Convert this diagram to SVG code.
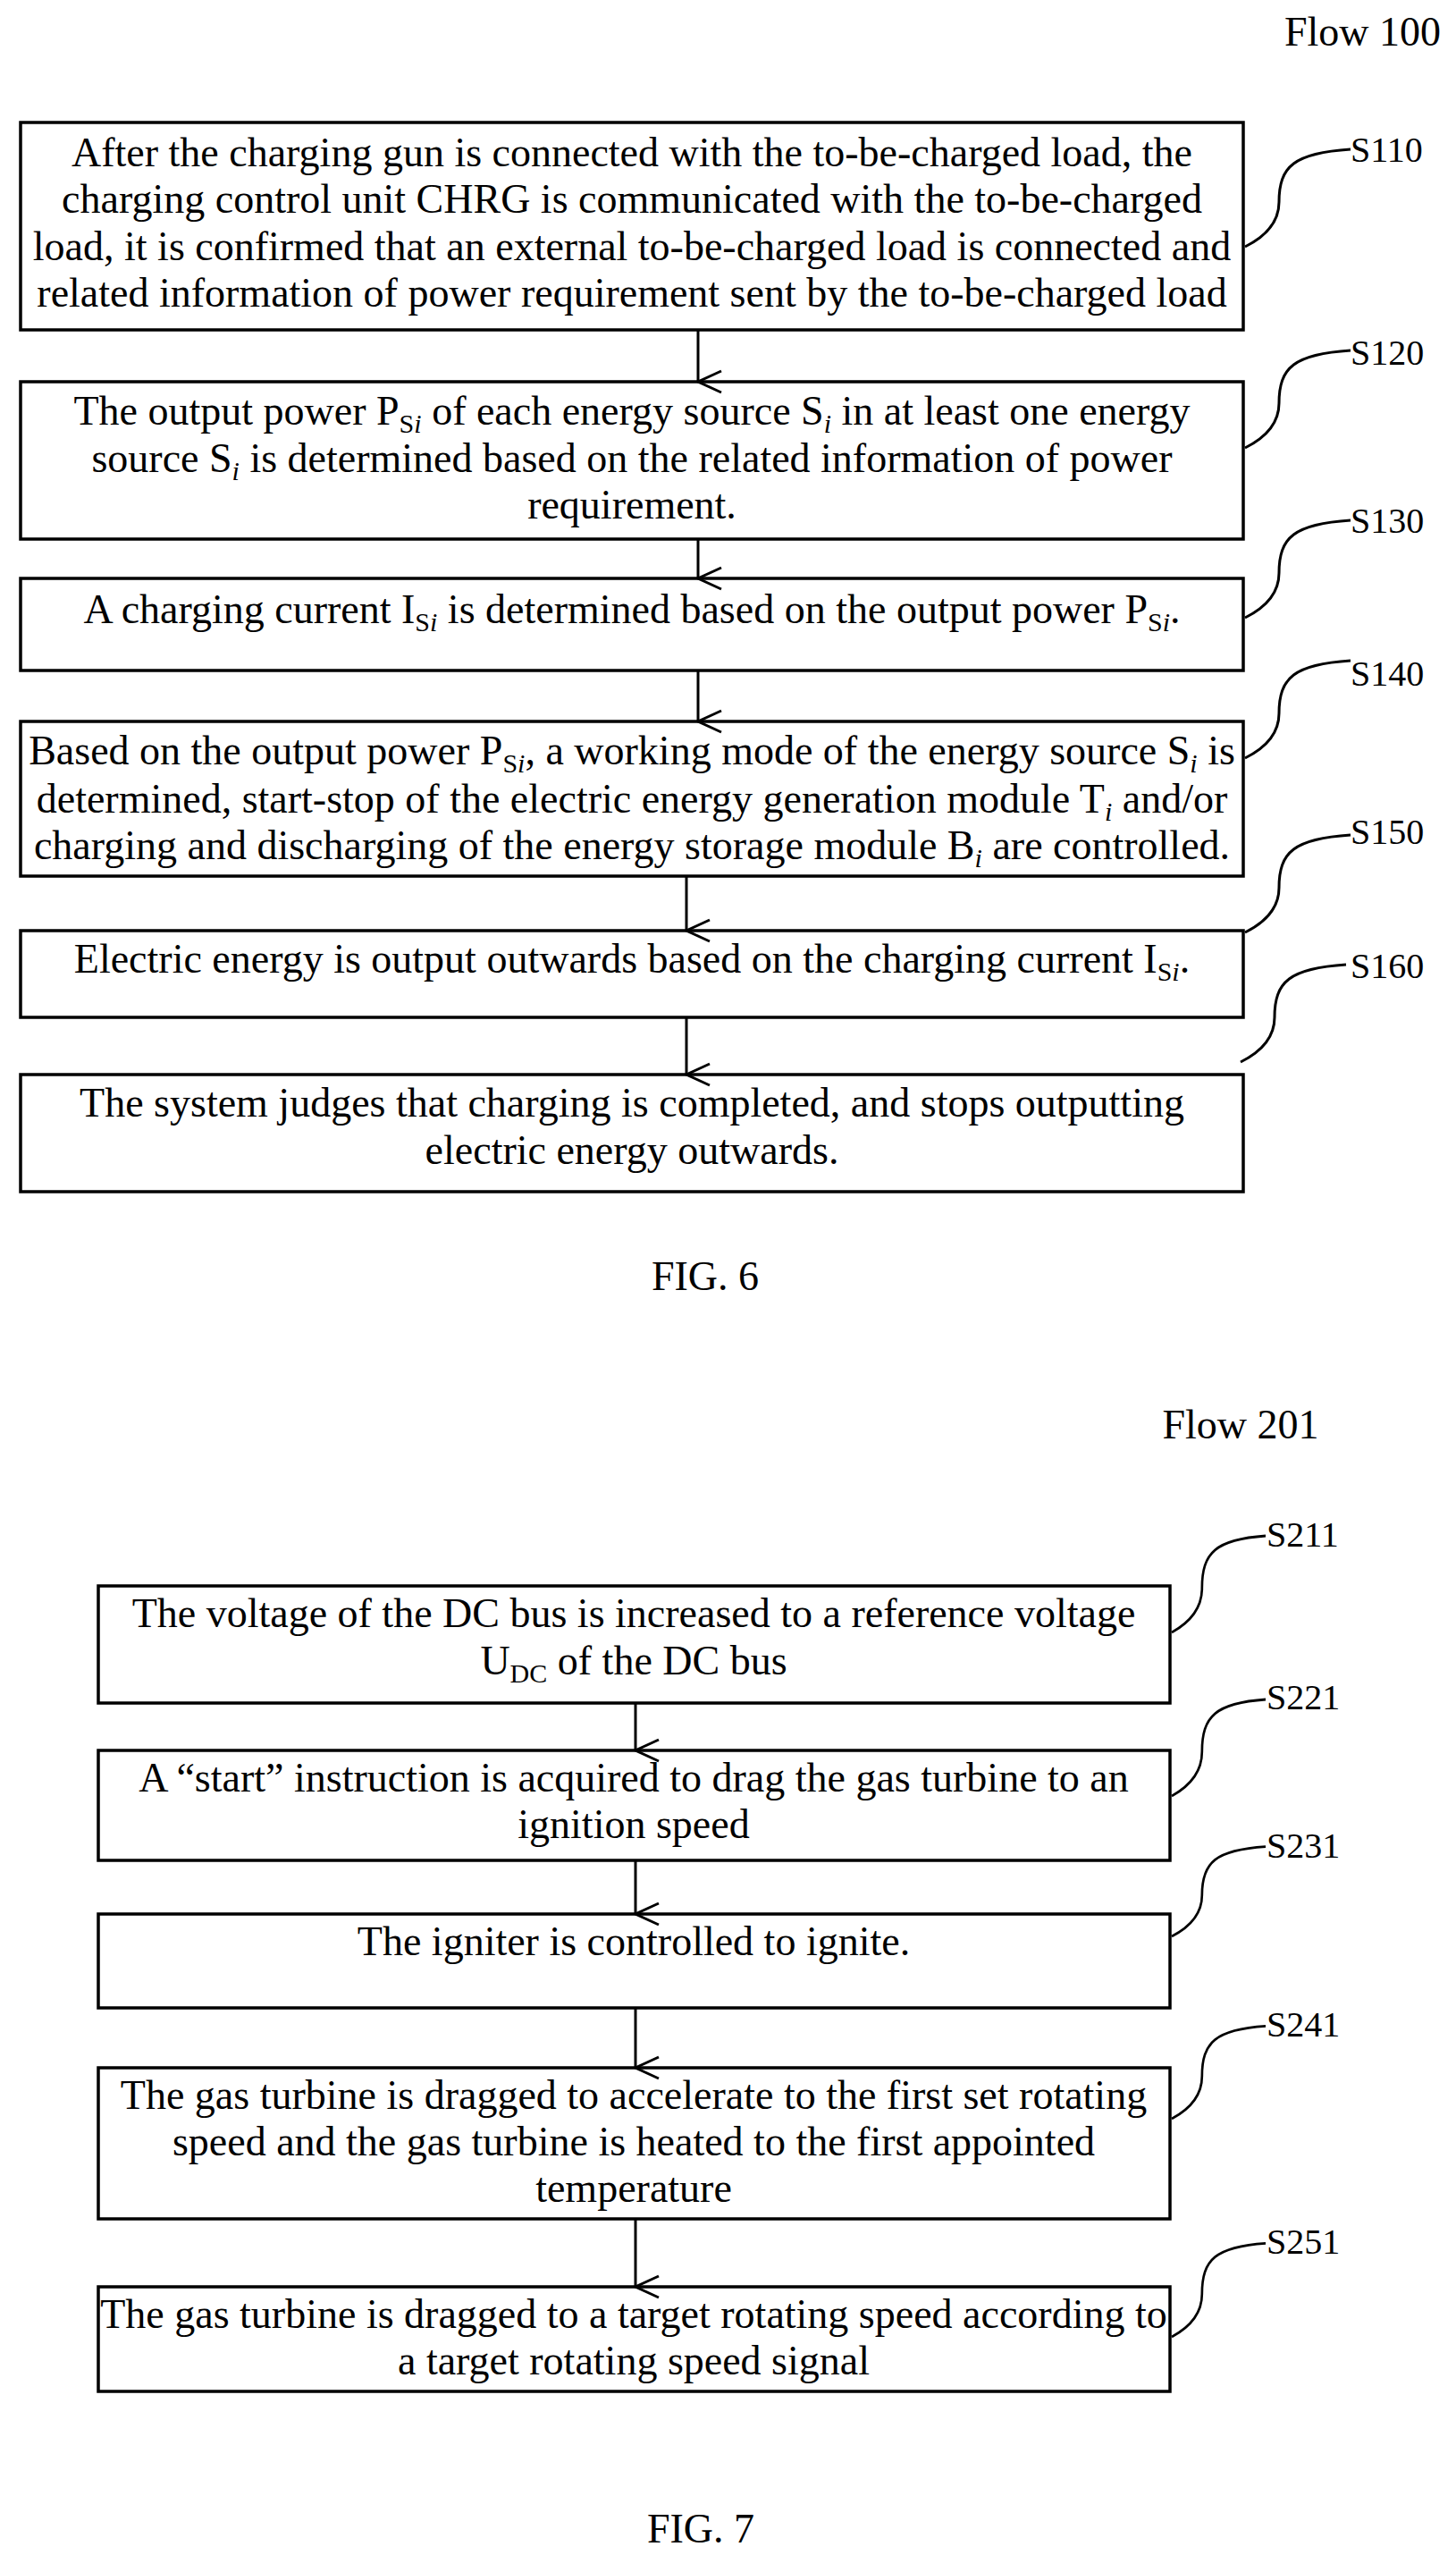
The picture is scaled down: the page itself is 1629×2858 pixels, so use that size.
<svg xmlns="http://www.w3.org/2000/svg" width="1629" height="2858" viewBox="0 0 1629 2858">
<style>
text{font-family:"Liberation Serif","Times New Roman",serif;font-size:46px;fill:#000}
.c{text-anchor:middle}
.lbl{font-size:40px}
.box{fill:#fff;stroke:#000;stroke-width:3.5}
.ln{fill:none;stroke:#000;stroke-width:3}
.sb{font-size:30px}
</style>
<defs>
<marker id="ah" markerWidth="28" markerHeight="30" refX="14" refY="28" orient="auto-start-reverse" markerUnits="userSpaceOnUse" viewBox="0 0 28 30"><path d="M2,2 L14,28 L26,2" fill="none" stroke="#000" stroke-width="3"/></marker>
<path id="lead" d="M0,0 C20,-10 38,-25 38,-50 C38,-90 55,-105 118,-109"/>
</defs>
<text x="1612" y="51" style="text-anchor:end">Flow 100</text>
<g id="S110"><rect class="box" x="23" y="137" width="1368" height="232"/>
<text class="c" x="707" y="186">After the charging gun is connected with the to-be-charged load, the</text>
<text class="c" x="707" y="238">charging control unit CHRG is communicated with the to-be-charged</text>
<text class="c" x="707" y="291">load, it is confirmed that an external to-be-charged load is connected and</text>
<text class="c" x="707" y="343">related information of power requirement sent by the to-be-charged load</text></g>
<g id="S120"><rect class="box" x="23" y="427" width="1368" height="176"/>
<text class="c" x="707" y="475">The output power P<tspan class="sb" dy="9">S<tspan font-style="italic">i</tspan></tspan><tspan dy="-9"> of each energy source S</tspan><tspan class="sb" dy="9" font-style="italic">i</tspan><tspan dy="-9"> in at least one energy</tspan></text>
<text class="c" x="707" y="528">source S<tspan class="sb" dy="9" font-style="italic">i</tspan><tspan dy="-9"> is determined based on the related information of power</tspan></text>
<text class="c" x="707" y="580">requirement.</text></g>
<g id="S130"><rect class="box" x="23" y="647" width="1368" height="103"/>
<text class="c" x="707" y="697">A charging current I<tspan class="sb" dy="9">S<tspan font-style="italic">i</tspan></tspan><tspan dy="-9"> is determined based on the output power P</tspan><tspan class="sb" dy="9">S<tspan font-style="italic">i</tspan></tspan><tspan dy="-9">.</tspan></text></g>
<g id="S140"><rect class="box" x="23" y="807" width="1368" height="173"/>
<text class="c" x="707" y="855">Based on the output power P<tspan class="sb" dy="9">S<tspan font-style="italic">i</tspan></tspan><tspan dy="-9">, a working mode of the energy source S</tspan><tspan class="sb" dy="9" font-style="italic">i</tspan><tspan dy="-9"> is</tspan></text>
<text class="c" x="707" y="909">determined, start-stop of the electric energy generation module T<tspan class="sb" dy="9" font-style="italic">i</tspan><tspan dy="-9"> and/or</tspan></text>
<text class="c" x="707" y="961">charging and discharging of the energy storage module B<tspan class="sb" dy="9" font-style="italic">i</tspan><tspan dy="-9"> are controlled.</tspan></text></g>
<g id="S150"><rect class="box" x="23" y="1041" width="1368" height="97"/>
<text class="c" x="707" y="1088">Electric energy is output outwards based on the charging current I<tspan class="sb" dy="9">S<tspan font-style="italic">i</tspan></tspan><tspan dy="-9">.</tspan></text></g>
<g id="S160"><rect class="box" x="23" y="1202" width="1368" height="131"/>
<text class="c" x="707" y="1249">The system judges that charging is completed, and stops outputting</text>
<text class="c" x="707" y="1302">electric energy outwards.</text></g>
<text class="c" x="789" y="1443">FIG. 6</text>
<g id="labels6">
<text class="lbl" x="1511" y="181">S110</text><text class="lbl" x="1511" y="408">S120</text><text class="lbl" x="1511" y="596">S130</text>
<text class="lbl" x="1511" y="767">S140</text><text class="lbl" x="1511" y="944">S150</text><text class="lbl" x="1511" y="1094">S160</text></g>
<text x="1388" y="1609" class="c">Flow 201</text>
<g id="S211"><rect class="box" x="110" y="1774" width="1199" height="131"/>
<text class="c" x="709" y="1820">The voltage of the DC bus is increased to a reference voltage</text>
<text class="c" x="709" y="1873">U<tspan class="sb" dy="9">DC</tspan><tspan dy="-9"> of the DC bus</tspan></text></g>
<g id="S221"><rect class="box" x="110" y="1958" width="1199" height="123"/>
<text class="c" x="709" y="2004">A “start” instruction is acquired to drag the gas turbine to an</text>
<text class="c" x="709" y="2056">ignition speed</text></g>
<g id="S231"><rect class="box" x="110" y="2141" width="1199" height="105"/>
<text class="c" x="709" y="2187">The igniter is controlled to ignite.</text></g>
<g id="S241"><rect class="box" x="110" y="2313" width="1199" height="169"/>
<text class="c" x="709" y="2359">The gas turbine is dragged to accelerate to the first set rotating</text>
<text class="c" x="709" y="2411">speed and the gas turbine is heated to the first appointed</text>
<text class="c" x="709" y="2463">temperature</text></g>
<g id="S251"><rect class="box" x="110" y="2558" width="1199" height="117"/>
<text class="c" x="709" y="2604">The gas turbine is dragged to a target rotating speed according to</text>
<text class="c" x="709" y="2656">a target rotating speed signal</text></g>
<text class="c" x="784" y="2844">FIG. 7</text>
<g id="labels7">
<text class="lbl" x="1417" y="1730">S211</text><text class="lbl" x="1417" y="1912">S221</text><text class="lbl" x="1417" y="2078">S231</text>
<text class="lbl" x="1417" y="2278">S241</text><text class="lbl" x="1417" y="2521">S251</text></g>
<g id="connectors">
<line class="ln" x1="781" y1="369" x2="781" y2="427" marker-end="url(#ah)"/>
<line class="ln" x1="781" y1="603" x2="781" y2="647" marker-end="url(#ah)"/>
<line class="ln" x1="781" y1="750" x2="781" y2="807" marker-end="url(#ah)"/>
<line class="ln" x1="768" y1="980" x2="768" y2="1041" marker-end="url(#ah)"/>
<line class="ln" x1="768" y1="1138" x2="768" y2="1202" marker-end="url(#ah)"/>
<line class="ln" x1="711" y1="1905" x2="711" y2="1958" marker-end="url(#ah)"/>
<line class="ln" x1="711" y1="2081" x2="711" y2="2141" marker-end="url(#ah)"/>
<line class="ln" x1="711" y1="2246" x2="711" y2="2313" marker-end="url(#ah)"/>
<line class="ln" x1="711" y1="2482" x2="711" y2="2558" marker-end="url(#ah)"/>
<use href="#lead" class="ln" x="1393" y="276"/>
<use href="#lead" class="ln" x="1393" y="501"/>
<use href="#lead" class="ln" x="1393" y="691"/>
<use href="#lead" class="ln" x="1393" y="848"/>
<use href="#lead" class="ln" x="1393" y="1043"/>
<use href="#lead" class="ln" x="1388" y="1188"/>
<use href="#lead" class="ln" x="1311" y="1826" transform="translate(1311 1826) scale(0.89 0.99) translate(-1311 -1826)"/>
<use href="#lead" class="ln" x="1311" y="2009" transform="translate(1311 2009) scale(0.89 0.99) translate(-1311 -2009)"/>
<use href="#lead" class="ln" x="1311" y="2166" transform="translate(1311 2166) scale(0.89 0.92) translate(-1311 -2166)"/>
<use href="#lead" class="ln" x="1311" y="2370" transform="translate(1311 2370) scale(0.89 0.95) translate(-1311 -2370)"/>
<use href="#lead" class="ln" x="1311" y="2614" transform="translate(1311 2614) scale(0.89 0.96) translate(-1311 -2614)"/>
</g>
</svg>
